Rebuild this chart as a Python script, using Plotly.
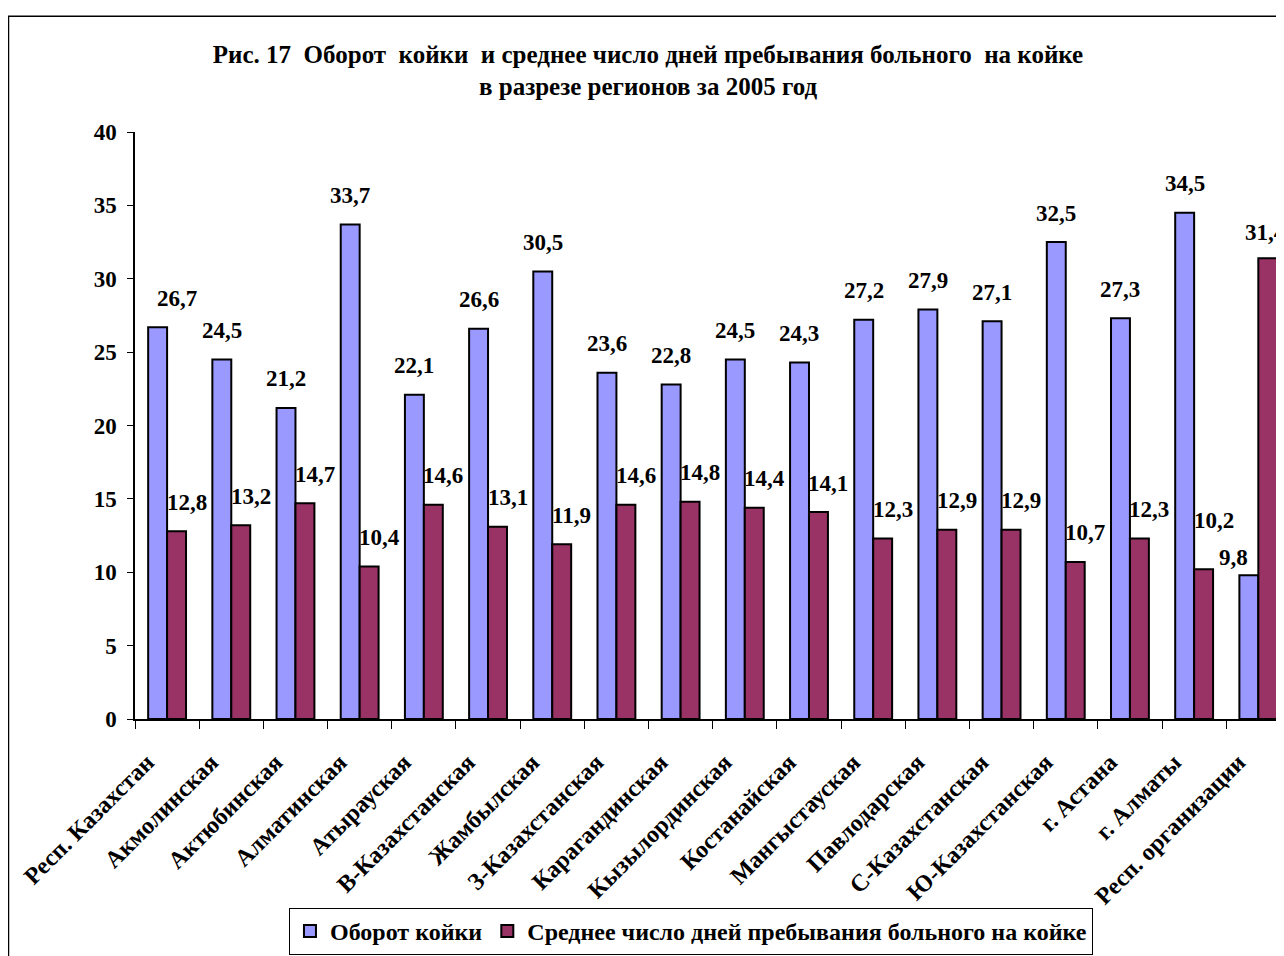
import plotly.graph_objects as go

# ---------------------------------------------------------------------------
# Data
# ---------------------------------------------------------------------------
regions = [
    "Респ. Казахстан", "Акмолинская", "Актюбинская", "Алматинская",
    "Атырауская", "В-Казахстанская", "Жамбылская", "З-Казахстанская",
    "Карагандинская", "Кызылординская", "Костанайская", "Мангыстауская",
    "Павлодарская", "С-Казахстанская", "Ю-Казахстанская", "г. Астана",
    "г. Алматы", "Респ. организации",
]
turnover = [26.7, 24.5, 21.2, 33.7, 22.1, 26.6, 30.5, 23.6, 22.8,
            24.5, 24.3, 27.2, 27.9, 27.1, 32.5, 27.3, 34.5, 9.8]
avg_days = [12.8, 13.2, 14.7, 10.4, 14.6, 13.1, 11.9, 14.6, 14.8,
            14.4, 14.1, 12.3, 12.9, 12.9, 10.7, 12.3, 10.2, 31.4]

SERIES_NAMES = ["Оборот койки", "Среднее число дней пребывания больного на койке"]
COLORS = ["#9999FF", "#993366"]
FONT = "Times New Roman, Liberation Serif, serif"

# page body has an 8px margin, so the figure is drawn 8px smaller
W, H = 1276, 948
ML, MT, MB = 127, 124, 237


def fmt(v):
    return f"{v:.1f}".replace(".", ",")


fig = go.Figure()
for name, vals, col in zip(SERIES_NAMES, [turnover, avg_days], COLORS):
    fig.add_trace(
        go.Bar(
            x=regions,
            y=vals,
            name=name,
            marker=dict(color=col, line=dict(color="black", width=2)),
        )
    )

# data labels (Excel style, floating above each bar); a few were nudged in the original
label_font = dict(family=FONT, size=23, color="black", weight="bold")
blue_dx = {0: 19, 17: -15}
blue_dy = {17: 18}
red_dx = {17: -12}
red_dy = {16: 49, 17: 26}
annotations = []
for i, (r, a, b) in enumerate(zip(regions, turnover, avg_days)):
    annotations.append(dict(
        x=r, y=a, xref="x", yref="y", text=fmt(a), showarrow=False,
        xshift=-9.5 + blue_dx.get(i, 0), yshift=blue_dy.get(i, 29),
        font=label_font,
    ))
    annotations.append(dict(
        x=r, y=b, xref="x", yref="y", text=fmt(b), showarrow=False,
        xshift=19.5 + red_dx.get(i, 0), yshift=red_dy.get(i, 29),
        font=label_font,
    ))

fig.update_layout(
    width=W,
    height=H,
    paper_bgcolor="white",
    plot_bgcolor="white",
    font=dict(family=FONT, size=20, color="black"),
    title=dict(
        text="<b>Рис. 17  Оборот  койки  и среднее число дней пребывания больного  на койке"
             "<br>в разрезе регионов за 2005 год</b>",
        x=0.5016, xanchor="center", y=0.942, yanchor="top",
        font=dict(family=FONT, size=25, color="black"),
    ),
    margin=dict(l=ML, r=0, t=MT, b=MB),
    bargap=0.41,
    bargroupgap=0,
    barmode="group",
    xaxis=dict(
        range=[-0.5, 17.4],
        showline=True, linecolor="black", linewidth=1.5,
        ticks="outside", tickson="boundaries", ticklen=8, tickcolor="black",
        tickangle=-45,
        ticklabelstandoff=18, ticklabelshift=-20,
        tickfont=dict(family=FONT, size=24, color="black", weight="bold"),
        showgrid=False,
    ),
    yaxis=dict(
        range=[0, 40], dtick=5,
        showline=True, linecolor="black", linewidth=1.5,
        ticks="outside", ticklen=6, tickcolor="black",
        ticklabelstandoff=6,
        tickfont=dict(family=FONT, size=23, color="black", weight="bold"),
        showgrid=False, zeroline=False,
    ),
    legend=dict(
        orientation="h",
        x=0.134, xanchor="left",
        y=-0.322, yanchor="top",
        bgcolor="white", bordercolor="black", borderwidth=1,
        font=dict(family=FONT, size=24, color="black", weight="bold"),
        itemwidth=30,
        tracegroupgap=0,
    ),
    annotations=annotations,
    shapes=[dict(
        type="rect", xref="paper", yref="paper",
        x0=-0.1101, x1=1.05, y0=-0.45, y1=1.197,
        line=dict(color="black", width=1.5), fillcolor="rgba(0,0,0,0)",
        layer="below",
    )],
)

fig.write_html("out.html")
